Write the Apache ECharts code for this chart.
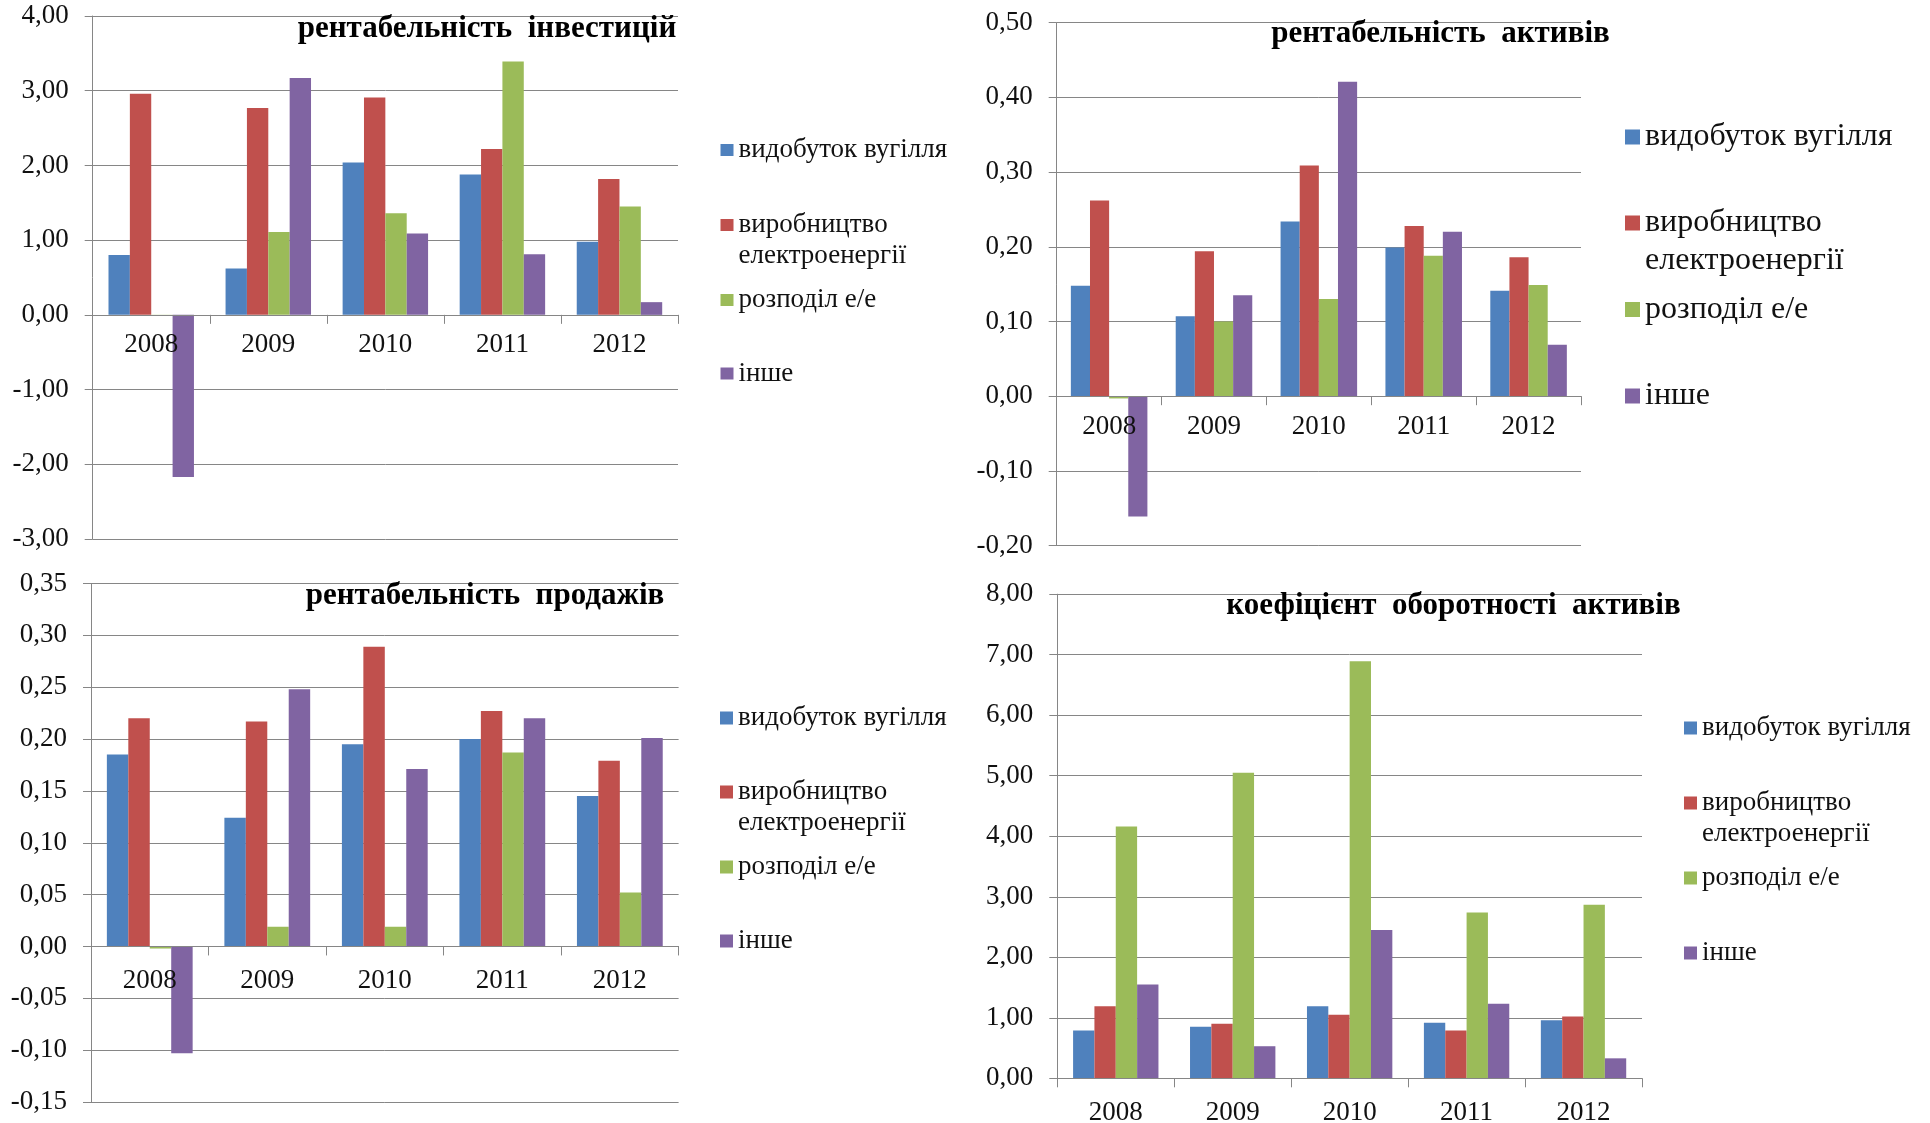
<!DOCTYPE html>
<html>
<head>
<meta charset="utf-8">
<script src="https://cdn.jsdelivr.net/npm/echarts@6/dist/echarts.min.js"></script>
<style>
  html, body { margin: 0; padding: 0; background: #ffffff; overflow: hidden; }
  #chart { width: 1930px; height: 1123px; }
</style>
</head>
<body>
<div id="chart"></div>
<script>
// Categories and series
const years = ['2008', '2009', '2010', '2011', '2012'];
const sectorNames = ['видобуток вугілля', 'виробництво електроенергії', 'розподіл е/е', 'інше'];
const sectorColors = ['#4F81BD', '#C0504D', '#9BBB59', '#8064A2'];

// рентабельність інвестицій
const investCoal     = [0.80, 0.62, 2.04, 1.88, 0.98];
const investPower    = [2.96, 2.77, 2.91, 2.22, 1.82];
const investDistrib  = [-0.01, 1.11, 1.36, 3.39, 1.45];
const investOther    = [-2.17, 3.17, 1.09, 0.81, 0.17];
const investTicks    = [-3, -2, -1, 0, 1, 2, 3, 4];

// рентабельність активів
const assetsCoal     = [0.148, 0.107, 0.234, 0.199, 0.141];
const assetsPower    = [0.262, 0.194, 0.309, 0.228, 0.186];
const assetsDistrib  = [-0.003, 0.100, 0.130, 0.188, 0.149];
const assetsOther    = [-0.161, 0.135, 0.421, 0.220, 0.069];
const assetsTicks    = [-0.2, -0.1, 0, 0.1, 0.2, 0.3, 0.4, 0.5];

// рентабельність продажів
const salesCoal      = [0.185, 0.124, 0.195, 0.200, 0.145];
const salesPower     = [0.220, 0.217, 0.289, 0.227, 0.179];
const salesDistrib   = [-0.002, 0.019, 0.019, 0.187, 0.052];
const salesOther     = [-0.103, 0.248, 0.171, 0.220, 0.201];
const salesTicks     = [-0.15, -0.10, -0.05, 0, 0.05, 0.10, 0.15, 0.20, 0.25, 0.30, 0.35];

// коефіцієнт оборотності активів
const turnoverCoal    = [0.79, 0.85, 1.19, 0.92, 0.96];
const turnoverPower   = [1.19, 0.90, 1.05, 0.79, 1.02];
const turnoverDistrib = [4.16, 5.05, 6.89, 2.74, 2.87];
const turnoverOther   = [1.55, 0.53, 2.45, 1.23, 0.33];
const turnoverTicks   = [0, 1, 2, 3, 4, 5, 6, 7, 8];

const FONT = "'Liberation Serif', 'Times New Roman', serif";
const AXIS_GREY = '#868686';

// Panel layout: plot box, title anchor and legend placement
const panels = [
  {
    title: 'рентабельність  інвестицій',
    values: [investCoal, investPower, investDistrib, investOther],
    ticks: investTicks,
    grid: { left: 92.7, top: 16, width: 585.3, height: 523 },
    labelMargin: 17,
    titleX: 487, titleY: 29,
    legend: { left: 720.5, centers: [150, 225, 300, 373.5], lineHeight: 31, fontSize: 27, icon: [13, 12] }
  },
  {
    title: 'рентабельність  активів',
    values: [assetsCoal, assetsPower, assetsDistrib, assetsOther],
    ticks: assetsTicks,
    grid: { left: 1056.7, top: 22.7, width: 524.3, height: 522.9 },
    labelMargin: 17,
    titleX: 1440.5, titleY: 34,
    legend: { left: 1625, centers: [137, 223, 309.5, 396], lineHeight: 38, fontSize: 32, icon: [15, 15] }
  },
  {
    title: 'рентабельність  продажів',
    values: [salesCoal, salesPower, salesDistrib, salesOther],
    ticks: salesTicks,
    grid: { left: 91, top: 583.5, width: 587.6, height: 518.5 },
    labelMargin: 21,
    titleX: 485, titleY: 596,
    legend: { left: 720, centers: [718, 792, 867, 941], lineHeight: 31, fontSize: 27, icon: [13, 13] }
  },
  {
    title: 'коефіцієнт  оборотності  активів',
    values: [turnoverCoal, turnoverPower, turnoverDistrib, turnoverOther],
    ticks: turnoverTicks,
    grid: { left: 1057.3, top: 594.2, width: 584.7, height: 484.1 },
    labelMargin: 21,
    titleX: 1453.5, titleY: 606,
    legend: { left: 1684, centers: [728, 803, 878, 953], lineHeight: 31, fontSize: 27, icon: [13, 13] }
  }
];

const fmt = v => (Math.round(v * 100) / 100).toFixed(2).replace('.', ',');

const option = {
  backgroundColor: '#ffffff',
  animation: false,
  grid: [], xAxis: [], yAxis: [], series: [], title: [], legend: []
};

panels.forEach((p, gi) => {
  option.grid.push(Object.assign({ outerBoundsMode: 'none', containLabel: false }, p.grid));

  const t = p.ticks;
  const yMin = t[0], yMax = t[t.length - 1];
  // the category axis sits on the zero value line
  const zeroLift = p.grid.height * (0 - yMin) / (yMax - yMin);

  option.xAxis.push({
    gridIndex: gi,
    type: 'category',
    position: 'bottom',
    offset: -zeroLift,
    data: years,
    z: 3,
    axisLine: { show: true, onZero: false, lineStyle: { color: AXIS_GREY, width: 1 } },
    axisTick: { show: true, length: 9, alignWithLabel: false, lineStyle: { color: AXIS_GREY, width: 1 } },
    axisLabel: { interval: 0, margin: p.labelMargin, fontFamily: FONT, fontSize: 27, color: '#111111' },
    splitLine: { show: false }
  });

  option.yAxis.push({
    gridIndex: gi,
    type: 'value',
    min: yMin,
    max: yMax,
    interval: +(t[1] - t[0]).toFixed(4),
    axisLine: { show: true, onZero: false, lineStyle: { color: AXIS_GREY, width: 1 } },
    axisTick: { show: true, length: 8, lineStyle: { color: AXIS_GREY, width: 1 } },
    splitLine: { show: true, lineStyle: { color: AXIS_GREY, width: 1 } },
    axisLabel: { margin: 24, fontFamily: FONT, fontSize: 27, color: '#111111', formatter: fmt }
  });

  p.values.forEach((vals, si) => {
    option.series.push({
      type: 'bar',
      name: sectorNames[si],
      xAxisIndex: gi,
      yAxisIndex: gi,
      data: vals,
      barGap: '0%',
      barCategoryGap: '27%',
      itemStyle: { color: sectorColors[si] },
      emphasis: { disabled: true }
    });
  });

  option.title.push({
    text: p.title,
    left: p.titleX,
    textAlign: 'center',
    top: p.titleY - 17,
    padding: 0,
    textStyle: { fontFamily: FONT, fontWeight: 'bold', fontSize: 31, lineHeight: 34, color: '#000000' }
  });

  const lg = p.legend;
  const [iw, ih] = lg.icon;
  sectorNames.forEach((name, si) => {
    const twoLine = si === 1;
    // for the wrapped entry the swatch sits beside the first line:
    // the icon box is one line taller, with the square at its top
    const boxH = twoLine ? ih + lg.lineHeight : ih;
    const icon = twoLine
      ? 'path://M0,0h' + iw + 'v' + ih + 'h-' + iw + 'Z M0,' + boxH + 'h0.01v0.01h-0.01Z'
      : 'rect';
    option.legend.push({
      data: [name],
      orient: 'vertical',
      left: lg.left,
      top: lg.centers[si] - lg.lineHeight / 2,
      padding: 0,
      icon: icon,
      itemWidth: iw,
      itemHeight: twoLine ? boxH + 0.01 : ih,
      selectedMode: false,
      formatter: n => twoLine ? n.replace(' ', '\n') : n,
      textStyle: {
        fontFamily: FONT,
        fontSize: lg.fontSize,
        lineHeight: lg.lineHeight,
        color: '#111111'
      }
    });
  });
});

const chart = echarts.init(document.getElementById('chart'), null, { renderer: 'canvas' });
chart.setOption(option);
</script>
</body>
</html>
